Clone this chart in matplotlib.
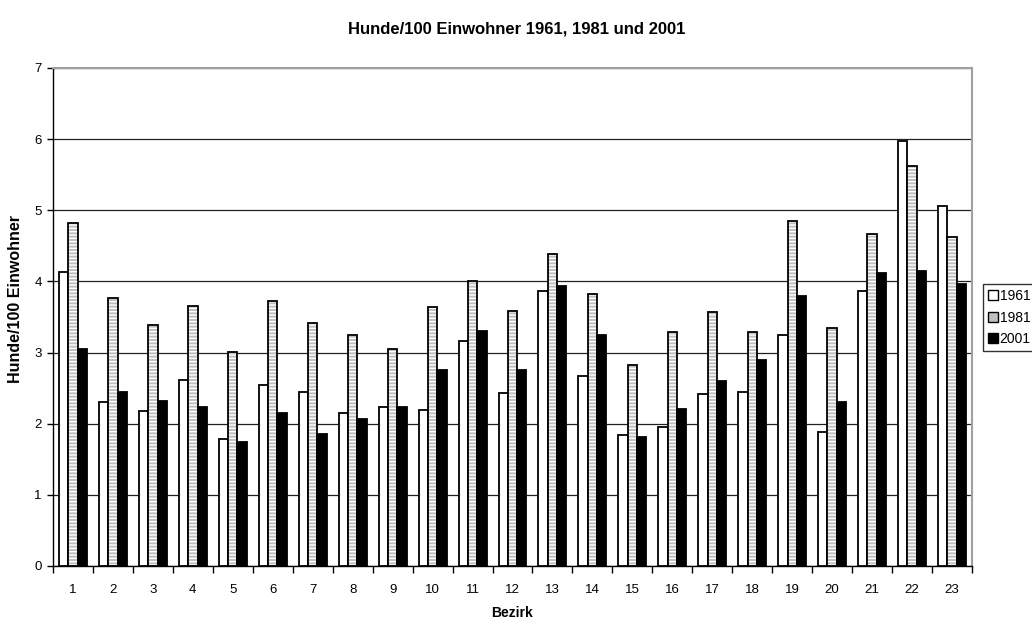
import numpy as np
import matplotlib
matplotlib.use("Agg")
import matplotlib.pyplot as plt
from matplotlib.patches import Patch

plt.rcParams['font.family'] = ['Liberation Sans', 'DejaVu Sans']

bezirke = [str(i) for i in range(1, 24)]
jahre = ['1961', '1981', '2001']
hunde_1961 = [4.13, 2.30, 2.18, 2.62, 1.78, 2.55, 2.45, 2.15, 2.24, 2.19, 3.16, 2.43,
              3.86, 2.67, 1.84, 1.96, 2.42, 2.45, 3.25, 1.89, 3.87, 5.97, 5.06]
hunde_1981 = [4.82, 3.77, 3.39, 3.66, 3.01, 3.72, 3.42, 3.25, 3.05, 3.64, 4.01, 3.58,
              4.39, 3.83, 2.83, 3.29, 3.57, 3.29, 4.85, 3.34, 4.66, 5.62, 4.63]
hunde_2001 = [3.05, 2.45, 2.32, 2.24, 1.74, 2.15, 1.85, 2.06, 2.24, 2.75, 3.31, 2.76,
              3.93, 3.25, 1.82, 2.21, 2.60, 2.90, 3.79, 2.31, 4.12, 4.15, 3.97]

fig = plt.figure(figsize=(10.32, 6.21), dpi=100)
ax = fig.add_axes([53 / 1032, 55 / 621, 919 / 1032, 498 / 621])

x = np.arange(1, len(bezirke) + 1)
w = 0.233

# 1961: weiss
ax.bar(x - w, hunde_1961, w, color='white', edgecolor='black', linewidth=1.3, zorder=3)
# 1981: grau mit weissen Querstreifen
ax.bar(x, hunde_1981, w, color='#c0c0c0', edgecolor='white', hatch='-----', linewidth=0, zorder=3)
ax.bar(x, hunde_1981, w, color='none', edgecolor='black', linewidth=1.3, zorder=4)
# 2001: schwarz
ax.bar(x + w, hunde_2001, w, color='black', edgecolor='black', linewidth=1.3, zorder=3)

ax.set_xlim(0.5, len(bezirke) + 0.5)
ax.set_ylim(0, 7)
ax.set_yticks(range(0, 8))
ax.set_xticks(x)
ax.set_xticklabels(bezirke)
ax.set_xticks(np.arange(0.5, len(bezirke) + 1), minor=True)
ax.tick_params(axis='x', which='major', length=0, labelsize=9.5, pad=13)
ax.tick_params(axis='x', which='minor', length=5, width=1, direction='out')
ax.tick_params(axis='y', length=4, width=1, labelsize=9.5, pad=4)

ax.yaxis.grid(True, color='#202020', linewidth=0.9, zorder=1)
ax.set_axisbelow(True)
for s in ['top', 'right']:
    ax.spines[s].set_color('#a0a0a0')
    ax.spines[s].set_linewidth(1.5)
for s in ['left', 'bottom']:
    ax.spines[s].set_color('black')
    ax.spines[s].set_linewidth(1)

ax.set_xlabel('Bezirk', fontsize=10, fontweight='bold', labelpad=7)
ax.set_ylabel('Hunde/100 Einwohner', fontsize=11.5, fontweight='bold')
ax.yaxis.set_label_coords(-30 / 919, 0.537)
fig.text(517 / 1032, 1 - 29 / 621, 'Hunde/100 Einwohner 1961, 1981 und 2001',
         ha='center', va='center', fontsize=12, fontweight='bold')

handles = [Patch(facecolor='white', edgecolor='black'),
           Patch(facecolor='#c0c0c0', edgecolor='black'),
           Patch(facecolor='black', edgecolor='black')]
leg = fig.legend(handles, jahre, loc='upper left', bbox_to_anchor=(983 / 1032, 1 - 284 / 621),
                 fontsize=10, frameon=True, fancybox=False, edgecolor='black',
                 handlelength=0.7, handleheight=0.7, handletextpad=0.15,
                 borderpad=0.35, labelspacing=0.55, borderaxespad=0)
leg.get_frame().set_linewidth(1)

fig.savefig('out.png', dpi=100)
